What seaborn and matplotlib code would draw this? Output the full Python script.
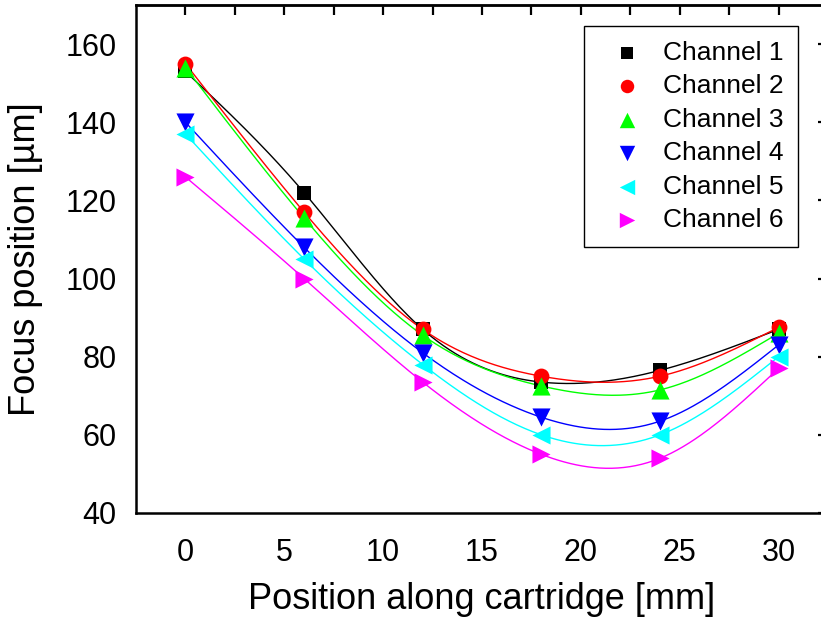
import numpy as np
import pandas as pd
import matplotlib
matplotlib.use("Agg")
import matplotlib.pyplot as plt
from matplotlib.ticker import MultipleLocator
import seaborn as sns

# Measured focus positions per channel along the cartridge
positions = [0, 6, 12, 18, 24, 30]
channel_1 = [153, 122, 87, 73.5, 76.5, 87]
channel_2 = [155, 117, 87, 75, 75, 87.5]
channel_3 = [154, 115.5, 85.5, 72.5, 71.5, 86]
channel_4 = [140, 108, 81, 64.5, 63.5, 83]
channel_5 = [137, 105, 78, 60, 60, 80]
channel_6 = [126, 100, 73.5, 55, 54, 77]

channel_names = ["Channel 1", "Channel 2", "Channel 3",
                 "Channel 4", "Channel 5", "Channel 6"]
channel_values = [channel_1, channel_2, channel_3,
                  channel_4, channel_5, channel_6]
colors = ["#000000", "#ff0000", "#00ff00", "#0000ff", "#00ffff", "#ff00ff"]
markers = ["s", "o", "^", "v", "<", ">"]
marker_sizes = [100, 130, 170, 170, 170, 170]


def natural_spline(x, y, xs):
    """Natural cubic spline through (x, y), evaluated at xs."""
    x = np.asarray(x, float)
    y = np.asarray(y, float)
    n = len(x)
    h = np.diff(x)
    A = np.zeros((n, n))
    r = np.zeros(n)
    A[0, 0] = A[-1, -1] = 1.0
    for i in range(1, n - 1):
        A[i, i - 1] = h[i - 1]
        A[i, i] = 2 * (h[i - 1] + h[i])
        A[i, i + 1] = h[i]
        r[i] = 3 * ((y[i + 1] - y[i]) / h[i] - (y[i] - y[i - 1]) / h[i - 1])
    c = np.linalg.solve(A, r)
    b = (y[1:] - y[:-1]) / h - h * (2 * c[:-1] + c[1:]) / 3
    d = (c[1:] - c[:-1]) / (3 * h)
    idx = np.clip(np.searchsorted(x, xs, side="right") - 1, 0, n - 2)
    t = xs - x[idx]
    return y[idx] + b[idx] * t + c[idx] * t ** 2 + d[idx] * t ** 3


sns.set_style("white")
plt.rcParams["font.family"] = ["Liberation Sans", "DejaVu Sans"]
plt.rcParams["text.color"] = "black"
plt.rcParams["axes.labelcolor"] = "black"
plt.rcParams["xtick.color"] = "black"
plt.rcParams["ytick.color"] = "black"

fig = plt.figure(figsize=(8.21, 6.18), dpi=100)
W, H = 821, 618
ax = fig.add_axes([136 / W, 1 - 513 / H, 692 / W, 508 / H])

xs = np.linspace(positions[0], positions[-1], 300)
curve_rows = []
for name, vals in zip(channel_names, channel_values):
    for xv, yv in zip(xs, natural_spline(positions, vals, xs)):
        curve_rows.append({"Position": xv, "Focus": yv, "Channel": name})
curves = pd.DataFrame(curve_rows)

sns.lineplot(data=curves, x="Position", y="Focus", hue="Channel",
             palette=dict(zip(channel_names, colors)), linewidth=1.0,
             legend=False, ax=ax, zorder=2)

for name, vals, col, mk, sz in zip(channel_names, channel_values,
                                   colors, markers, marker_sizes):
    sns.scatterplot(x=positions, y=vals, marker=mk, color=col, s=sz,
                    linewidth=0, label=name, ax=ax, zorder=3)

ax.set_xlim(-2.5, 32.5)
ax.set_ylim(40, 170)
ax.xaxis.set_major_locator(MultipleLocator(5))
ax.xaxis.set_minor_locator(MultipleLocator(2.5))
ax.set_yticks(np.arange(40, 161, 20))
ax.yaxis.set_minor_locator(MultipleLocator(10))

for sp in ax.spines.values():
    sp.set_linewidth(1.8)
    sp.set_color("black")

ax.tick_params(axis="both", which="major", direction="out", length=8,
               width=1.6, labelsize=22, colors="black", pad=6)
ax.tick_params(axis="x", which="major", pad=10)
ax.tick_params(axis="both", which="minor", direction="out", length=4.5,
               width=1.6, colors="black")
ax.tick_params(top=False, right=False)

# Inward ticks on the mirrored top and right axes
top = ax.secondary_xaxis("top")
top.set_xticks(np.arange(0, 32.6, 2.5))
top.tick_params(direction="in", length=7, width=1.6, labeltop=False)
top.spines["top"].set_linewidth(1.8)
right = ax.secondary_yaxis("right")
right.set_yticks(np.arange(40, 161, 20))
right.tick_params(direction="in", length=7, width=1.6, labelright=False)
right.spines["right"].set_linewidth(1.8)

ax.set_xlabel("Position along cartridge [mm]", fontsize=26, labelpad=10)
ax.set_ylabel("Focus position [µm]", fontsize=26, labelpad=16)

leg = ax.legend(loc="upper right", bbox_to_anchor=(662 / 692, 1 - 21 / 508),
                bbox_transform=ax.transAxes, fontsize=19, frameon=True,
                fancybox=False, framealpha=1, edgecolor="black",
                borderpad=0.55, labelspacing=0.36, handletextpad=0.3,
                handlelength=2.15, markerscale=0.85, borderaxespad=0)
leg.get_frame().set_linewidth(1.0)

fig.savefig("out.png", dpi=100)
